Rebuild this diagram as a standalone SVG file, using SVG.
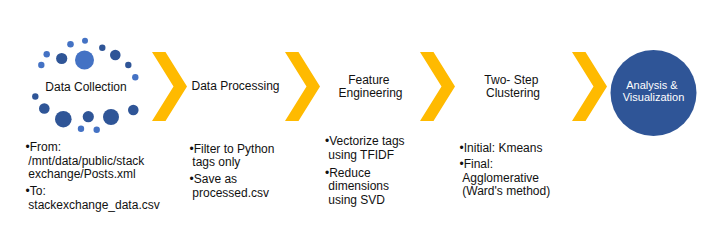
<svg xmlns="http://www.w3.org/2000/svg" width="709" height="241" viewBox="0 0 709 241">
  <style>
    .bg { fill: #ffffff; }
    .title { font-family: "Liberation Sans", Arial, sans-serif; font-size: 12px; fill: #111111; text-anchor: middle; }
    .bullet { font-family: "Liberation Sans", Arial, sans-serif; font-size: 12px; fill: #111111; }
    .light { fill: #4472C4; }
    .dark { fill: #2F5597; }
    .chev { fill: #FFBA00; }
    .hub { fill: #2F5597; }
    .hubtext { font-family: "Liberation Sans", Arial, sans-serif; font-size: 11px; fill: #ffffff; text-anchor: middle; }
  </style>
  <defs>
    <polygon id="chevron" points="0,0 13.5,0 35,34.5 13.5,69 0,69 21.5,34.5"/>
  </defs>

  <rect class="bg" x="0" y="0" width="709" height="241"/>

  <!-- Stage 1: data collection, ring of dots -->
  <g id="data-collection">
    <circle class="light" cx="85" cy="40.7" r="3"/>
    <circle class="light" cx="70.5" cy="44.3" r="3.3"/>
    <circle class="light" cx="46.7" cy="54.3" r="3.2"/>
    <circle class="dark" cx="61.7" cy="58.5" r="5.6"/>
    <circle class="light" cx="84.5" cy="60" r="9.5"/>
    <circle class="dark" cx="102.3" cy="47.7" r="3.2"/>
    <circle class="dark" cx="115.3" cy="55" r="5.3"/>
    <circle class="light" cx="41.3" cy="65" r="3.2"/>
    <circle class="dark" cx="128.3" cy="65" r="3.2"/>
    <circle class="light" cx="135.3" cy="77.3" r="3.2"/>
    <circle class="dark" cx="35.3" cy="96.5" r="3.2"/>
    <circle class="dark" cx="44.3" cy="108.5" r="5.3"/>
    <circle class="dark" cx="63.3" cy="119.2" r="8.3"/>
    <circle class="dark" cx="88.3" cy="116.7" r="5.6"/>
    <circle class="dark" cx="111" cy="117" r="8"/>
    <circle class="dark" cx="133.3" cy="110" r="5.3"/>
    <circle class="light" cx="81" cy="128.7" r="3.2"/>
    <circle class="light" cx="96.7" cy="129.7" r="3.2"/>
    <text class="title" x="86" y="90.5">Data Collection</text>
    <text class="bullet">
      <tspan x="25.5" y="151">•From:</tspan>
      <tspan x="28.3" y="164.5">/mnt/data/public/stack</tspan>
      <tspan x="28.3" y="178">exchange/Posts.xml</tspan>
      <tspan x="25.5" y="195">•To:</tspan>
      <tspan x="28.3" y="208.5">stackexchange_data.csv</tspan>
    </text>
  </g>

  <!-- Stage 2 -->
  <g id="data-processing">
    <text class="title" x="235.5" y="90">Data Processing</text>
    <text class="bullet">
      <tspan x="189.5" y="152.5">•Filter to Python</tspan>
      <tspan x="192.3" y="166">tags only</tspan>
      <tspan x="189.5" y="183">•Save as</tspan>
      <tspan x="192.3" y="196.5">processed.csv</tspan>
    </text>
  </g>

  <!-- Stage 3 -->
  <g id="feature-engineering">
    <text class="title">
      <tspan x="370.5" y="83.5">Feature</tspan>
      <tspan x="370.5" y="97">Engineering</tspan>
    </text>
    <text class="bullet">
      <tspan x="325" y="145">•Vectorize tags</tspan>
      <tspan x="328.3" y="158.5">using TFIDF</tspan>
      <tspan x="325" y="176.5">•Reduce</tspan>
      <tspan x="328.3" y="190">dimensions</tspan>
      <tspan x="328.3" y="203.5">using SVD</tspan>
    </text>
  </g>

  <!-- Stage 4 -->
  <g id="two-step-clustering">
    <text class="title">
      <tspan x="513" y="83.5">Two- Step</tspan>
      <tspan x="513" y="97">Clustering</tspan>
    </text>
    <text class="bullet">
      <tspan x="459.5" y="151.5">•Initial: Kmeans</tspan>
      <tspan x="459.5" y="168">•Final:</tspan>
      <tspan x="462.3" y="181.5">Agglomerative</tspan>
      <tspan x="462.3" y="195">(Ward's method)</tspan>
    </text>
  </g>

  <!-- Stage 5: result hub -->
  <g id="analysis-visualization">
    <circle class="hub" cx="653.5" cy="93" r="43"/>
    <text class="hubtext">
      <tspan x="653.5" y="88.5">Analysis &amp;</tspan>
      <tspan x="653.5" y="100.5">Visualization</tspan>
    </text>
  </g>

  <!-- Flow chevrons between stages -->
  <g id="connectors" class="chev">
    <use href="#chevron" x="152" y="52"/>
    <use href="#chevron" x="285" y="52"/>
    <use href="#chevron" x="420" y="52"/>
    <use href="#chevron" x="572" y="52"/>
  </g>
</svg>
